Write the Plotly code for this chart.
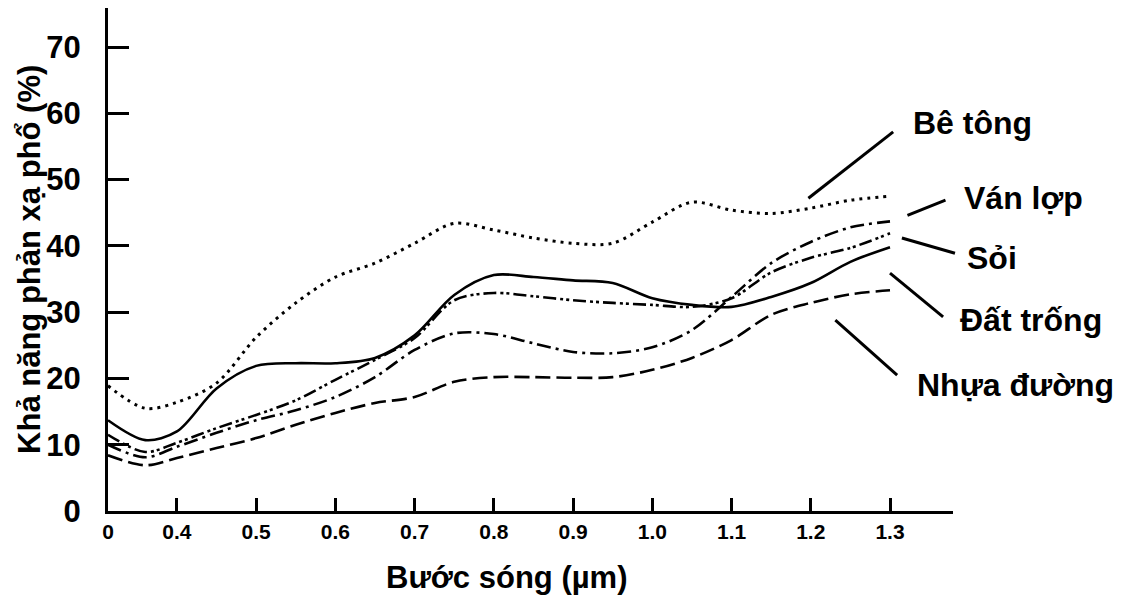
import plotly.graph_objects as go

# ---------------- data ----------------
wavelength = [0.313, 0.36, 0.40, 0.45, 0.50, 0.55, 0.60, 0.65, 0.70, 0.75, 0.80,
              0.85, 0.90, 0.95, 1.00, 1.05, 1.10, 1.15, 1.20, 1.25, 1.30]

be_tong = [18.9, 15.5, 16.4, 19.3, 26.2, 31.4, 35.3, 37.4, 40.4, 43.4, 42.4,
           41.2, 40.4, 40.4, 43.6, 46.6, 45.4, 44.9, 45.7, 46.9, 47.5]
van_lop = [10.0, 8.1, 9.7, 11.8, 13.7, 15.2, 17.2, 20.2, 24.3, 26.8, 26.7,
           25.3, 24.0, 23.8, 24.7, 27.3, 32.3, 37.4, 40.6, 42.8, 43.7]
soi = [11.5, 8.9, 10.3, 12.5, 14.5, 16.7, 19.8, 22.8, 26.1, 31.8, 32.9,
       32.4, 31.8, 31.4, 31.1, 30.8, 32.1, 36.0, 38.2, 39.7, 41.9]
dat_trong = [13.7, 10.7, 12.0, 18.5, 21.9, 22.3, 22.3, 23.1, 26.5, 32.6, 35.6,
             35.3, 34.8, 34.4, 32.1, 31.1, 30.8, 32.3, 34.4, 37.6, 39.8]
nhua_duong = [8.4, 6.9, 8.0, 9.5, 11.0, 13.0, 14.8, 16.3, 17.2, 19.5, 20.2,
              20.2, 20.1, 20.2, 21.3, 23.1, 25.8, 29.6, 31.4, 32.7, 33.3]

series_names = ["Bê tông", "Ván lợp", "Sỏi", "Đất trống", "Nhựa đường"]

x_tickvals = [0.313, 0.4, 0.5, 0.6, 0.7, 0.8, 0.9, 1.0, 1.1, 1.2, 1.3]
x_ticktext = ["0", "0.4", "0.5", "0.6", "0.7", "0.8", "0.9", "1.0", "1.1", "1.2", "1.3"]
y_tickvals = [0, 10, 20, 30, 40, 50, 60, 70]
y_ticktext = ["0", "10", "20", "30", "40", "50", "60", "70"]

x_title = "Bước sóng (µm)"
y_title = "Khả năng phản xạ phổ (%)"

# label anchor points (data units) and leader lines (data units)
label_pos = [(1.326, 58.5), (1.391, 47.2), (1.395, 38.2), (1.386, 28.8), (1.332, 19.0)]
leader_lines = [((1.197, 47.2), (1.304, 57.2)),
                ((1.322, 44.6), (1.370, 46.9)),
                ((1.315, 41.2), (1.382, 38.9)),
                ((1.300, 35.9), (1.367, 29.3)),
                ((1.231, 28.8), (1.309, 20.5))]

X_RANGE = [0.313, 1.3795]
Y_RANGE = [0, 75.9]

# ---------------- figure ----------------
FONT = "Liberation Sans, Arial, sans-serif"
styles = [
    dict(width=3, dash="3px,5px"),
    dict(width=2.6, dash="14px,5px,3px,5px"),
    dict(width=2.6, dash="13px,4px,3px,3px,3px,4px"),
    dict(width=2.6, dash="solid"),
    dict(width=2.6, dash="15px,6px"),
]
all_series = [be_tong, van_lop, soi, dat_trong, nhua_duong]

fig = go.Figure()
for name, ys, st in zip(series_names, all_series, styles):
    fig.add_trace(go.Scatter(
        x=wavelength, y=ys, mode="lines", name=name,
        line=dict(color="black", width=st["width"], dash=st["dash"],
                  shape="spline", smoothing=0.9),
        showlegend=False, hoverinfo="skip"))


def to_paper(x, y):
    px = (x - X_RANGE[0]) / (X_RANGE[1] - X_RANGE[0])
    py = (y - Y_RANGE[0]) / (Y_RANGE[1] - Y_RANGE[0])
    return px, py


shapes = []
for (a, b) in leader_lines:
    x0, y0 = to_paper(*a)
    x1, y1 = to_paper(*b)
    shapes.append(dict(type="line", xref="paper", yref="paper",
                       x0=x0, y0=y0, x1=x1, y1=y1,
                       line=dict(color="black", width=3)))

annotations = []
for name, (lx, ly) in zip(series_names, label_pos):
    ax_, ay_ = to_paper(lx, ly)
    annotations.append(dict(x=ax_, y=ay_, xref="paper", yref="paper", text=name,
                            showarrow=False, xanchor="left", yanchor="middle",
                            font=dict(family=FONT, size=32, color="black", weight="bold")))

annotations.append(dict(x=0.472, y=-0.133, xref="paper", yref="paper", text=x_title,
                        showarrow=False, xanchor="center", yanchor="middle",
                        font=dict(family=FONT, size=31, color="black", weight="bold")))
annotations.append(dict(x=-0.093, y=0.5, xref="paper", yref="paper", text=y_title,
                        textangle=-90, showarrow=False, xanchor="center", yanchor="middle",
                        font=dict(family=FONT, size=31, color="black", weight="bold")))

fig.update_layout(
    width=1131, height=598,
    margin=dict(l=108, r=178, t=8, b=87),
    paper_bgcolor="white", plot_bgcolor="white",
    shapes=shapes, annotations=annotations,
    xaxis=dict(range=X_RANGE, tickvals=x_tickvals, ticktext=x_ticktext,
               ticks="inside", ticklen=13, tickwidth=2.5, tickcolor="black",
               showline=True, linewidth=3, linecolor="black",
               showgrid=False, zeroline=False, ticklabelstandoff=0,
               tickfont=dict(family=FONT, size=21, color="black", weight="bold")),
    yaxis=dict(range=Y_RANGE, tickvals=y_tickvals, ticktext=y_ticktext,
               ticks="inside", ticklen=21, tickwidth=2.5, tickcolor="black",
               showline=True, linewidth=3, linecolor="black",
               showgrid=False, zeroline=False, ticklabelstandoff=18,
               tickfont=dict(family=FONT, size=31, color="black", weight="bold")),
)

fig.write_html("out.html", config={"displayModeBar": False},
               post_script="document.body.style.margin='0';document.body.style.padding='0';")
